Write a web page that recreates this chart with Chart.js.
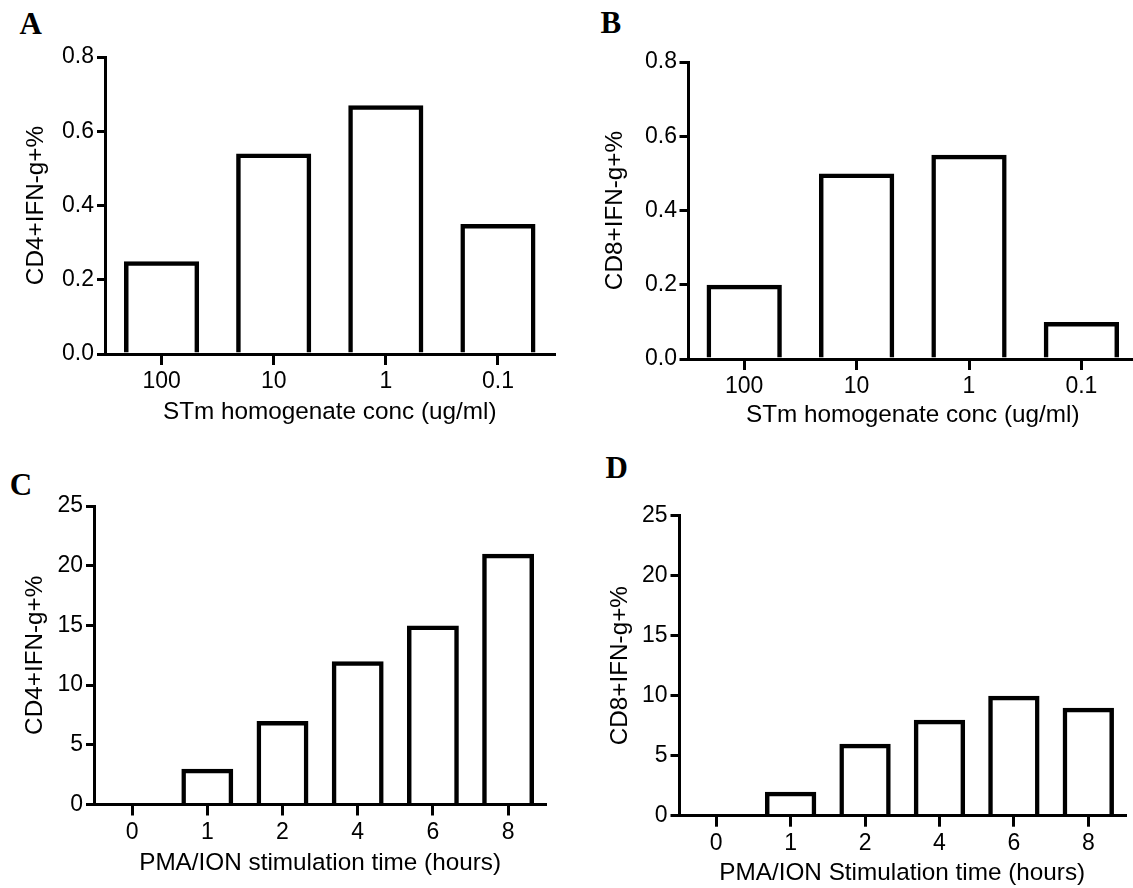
<!DOCTYPE html>
<html>
<head>
<meta charset="utf-8">
<script src="https://cdn.jsdelivr.net/npm/chart.js@4.4.1/dist/chart.umd.min.js"></script>
<style>
  html, body { margin: 0; padding: 0; background: #ffffff; }
  body { width: 1133px; height: 888px; position: relative; overflow: hidden; }
  canvas.p { position: absolute; }
  .lbl { position: absolute; font-family: "Liberation Serif", "Times New Roman", serif; font-weight: bold; font-size: 31px; line-height: 31px; color: #000; }
</style>
</head>
<body>
<div class="lbl" style="left:19.5px; top:8px;">A</div>
<div class="lbl" style="left:600.5px; top:7px;">B</div>
<div class="lbl" style="left:9.7px; top:469px;">C</div>
<div class="lbl" style="left:605.5px; top:452px;">D</div>

<canvas id="cA" class="p"></canvas>
<canvas id="cB" class="p"></canvas>
<canvas id="cC" class="p"></canvas>
<canvas id="cD" class="p"></canvas>

<script>
// ---------- DATA ----------
const concCategories = ['100', '10', '1', '0.1'];
const cd4ConcValues  = [0.25, 0.54, 0.67, 0.35];
const cd8ConcValues  = [0.20, 0.50, 0.55, 0.10];
const concTicks      = [0, 0.2, 0.4, 0.6, 0.8];

const timeCategories = ['0', '1', '2', '4', '6', '8'];
const cd4TimeValues  = [0, 3, 7, 12, 15, 21];
const cd8TimeValues  = [0, 2, 6, 8, 10, 9];
const timeTicks      = [0, 5, 10, 15, 20, 25];

// ---------- LAYOUT ----------
const FONT = '"Liberation Sans", Arial, sans-serif';
const TICK_SIZE = 23, TITLE_SIZE = 24.3, TITLE_LH = 1.2;

const panels = [
  { id: 'cA', cats: concCategories, vals: cd4ConcValues, yTicks: concTicks, dec: 1,
    yTitle: 'CD4+IFN-g+%', xTitle: 'STm homogenate conc (ug/ml)',
    g: { left: 0, top: 0, w: 566, h: 440, caL: 105.5, caR: 554, caT: 57, caB: 354,
         yTitleX: 36, xTitleY: 412, yTickPad: 3, xTickPad: 2.5, cat: 0.67 } },
  { id: 'cB', cats: concCategories, vals: cd8ConcValues, yTicks: concTicks, dec: 1,
    yTitle: 'CD8+IFN-g+%', xTitle: 'STm homogenate conc (ug/ml)',
    g: { left: 570, top: 0, w: 572, h: 440, caL: 118, caR: 567.6, caT: 62, caB: 359,
         yTitleX: 45, xTitleY: 415, yTickPad: 2.5, xTickPad: 2.5, cat: 0.67 } },
  { id: 'cC', cats: timeCategories, vals: cd4TimeValues, yTicks: timeTicks, dec: 0,
    yTitle: 'CD4+IFN-g+%', xTitle: 'PMA/ION stimulation time (hours)',
    g: { left: 0, top: 440, w: 566, h: 448, caL: 94.5, caR: 545.7, caT: 66, caB: 364.5,
         yTitleX: 35.7, xTitleY: 423, yTickPad: 3, xTickPad: 3.3, cat: 0.69 } },
  { id: 'cD', cats: timeCategories, vals: cd8TimeValues, yTicks: timeTicks, dec: 0,
    yTitle: 'CD8+IFN-g+%', xTitle: 'PMA/ION Stimulation time (hours)',
    g: { left: 570, top: 440, w: 570, h: 448, caL: 109, caR: 555.5, caT: 75.7, caB: 375.7,
         yTitleX: 50, xTitleY: 433, yTickPad: 3, xTickPad: 2.7, cat: 0.69 } }
];

function build(p) {
  const g = p.g;
  const cv = document.getElementById(p.id);
  cv.width = g.w; cv.height = g.h;
  cv.style.left = g.left + 'px'; cv.style.top = g.top + 'px';
  cv.style.width = g.w + 'px'; cv.style.height = g.h + 'px';
  const titleHalf = TITLE_SIZE * TITLE_LH / 2;
  const yAxisW = g.caL;
  const xAxisH = g.h - g.caB;
  const yMin = p.yTicks[0], yMax = p.yTicks[p.yTicks.length - 1];

  new Chart(cv, {
    type: 'bar',
    data: {
      labels: p.cats,
      datasets: [{
        data: p.vals,
        backgroundColor: 'rgba(0,0,0,0)',
        borderColor: '#000000',
        borderWidth: 4.5,
        borderSkipped: 'start',
        barPercentage: 1.0,
        categoryPercentage: g.cat
      }]
    },
    options: {
      responsive: false,
      animation: false,
      devicePixelRatio: 1,
      layout: { padding: { left: 0, top: g.caT, right: g.w - g.caR, bottom: 0 } },
      plugins: { legend: { display: false }, tooltip: { enabled: false }, title: { display: false } },
      scales: {
        x: {
          z: 1,
          offset: true,
          grid: { display: true, offset: false, drawOnChartArea: false, drawTicks: true,
                  tickLength: 11, tickWidth: 3, tickColor: '#000', lineWidth: 3, color: '#000' },
          border: { display: true, color: '#000', width: 3 },
          ticks: { color: '#000', padding: g.xTickPad, maxRotation: 0, autoSkip: false,
                   font: { family: FONT, size: TICK_SIZE } },
          title: { display: true, text: p.xTitle, color: '#000',
                   font: { family: FONT, size: TITLE_SIZE, lineHeight: TITLE_LH },
                   padding: { top: 0, bottom: (g.h - g.xTitleY) - titleHalf } },
          afterFit: s => { s.height = xAxisH; }
        },
        y: {
          z: 1,
          min: yMin, max: yMax,
          grid: { display: true, drawOnChartArea: false, drawTicks: true,
                  tickLength: 8.5, tickWidth: 3, tickColor: '#000', lineWidth: 3, color: '#000' },
          border: { display: true, color: '#000', width: 3 },
          afterBuildTicks: s => { s.ticks = p.yTicks.map(v => ({ value: v })); },
          ticks: { color: '#000', padding: g.yTickPad, autoSkip: false,
                   font: { family: FONT, size: TICK_SIZE },
                   callback: v => Number(v).toFixed(p.dec) },
          title: { display: true, text: p.yTitle, color: '#000',
                   font: { family: FONT, size: TITLE_SIZE, lineHeight: TITLE_LH },
                   padding: { top: g.yTitleX - titleHalf, bottom: 0 } },
          afterFit: s => { s.width = yAxisW; }
        }
      }
    }
  });
}

panels.forEach(build);
</script>
</body>
</html>
